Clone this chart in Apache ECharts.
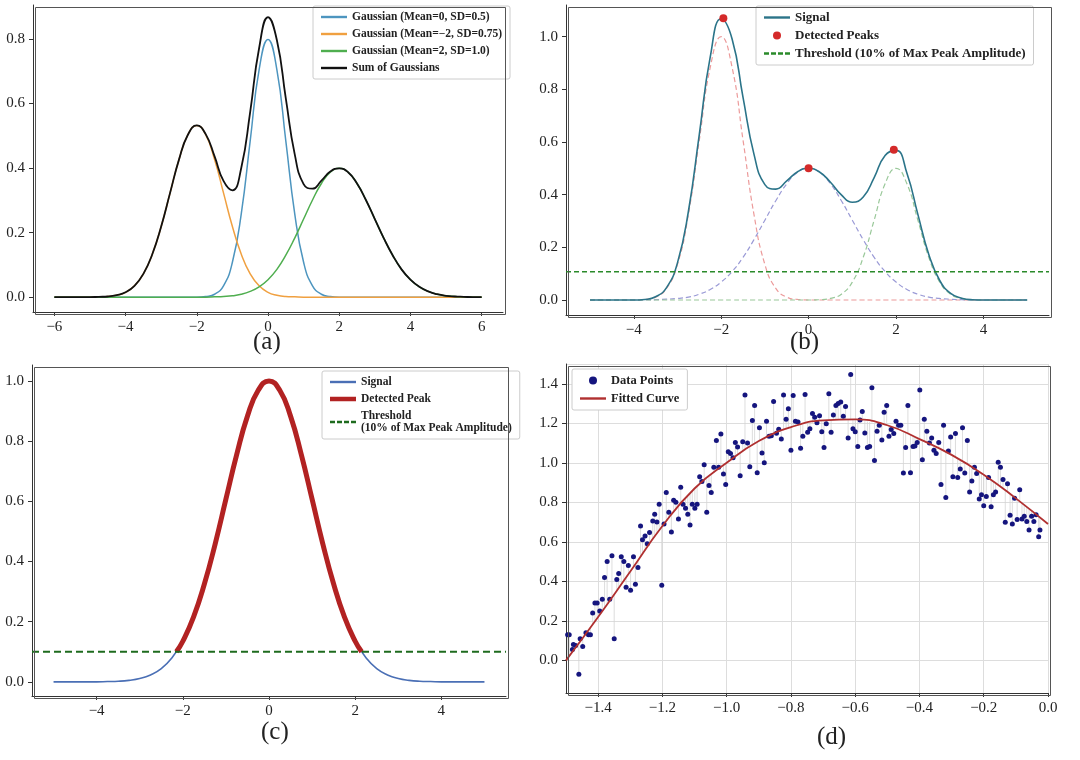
<!DOCTYPE html>
<html>
<head>
<meta charset="utf-8">
<script src="https://cdn.jsdelivr.net/npm/echarts@6/dist/echarts.min.js"></script>
<style>html,body{margin:0;padding:0;background:#fff}#main{width:1080px;height:760px}</style>
</head>
<body>
<div id="main"></div>
<script>
// ---- panel (a): three gaussians, x from -6 to 6 step 0.25
var xsA = []
for (var i = 0; i <= 48; i++) xsA.push(-6 + i * 0.25)
var gaussA0 = [0,0,0,0,0,0,0,0,0,0,0,0,0,0,0,0,0,
  0.002,0.009,0.035,0.108,0.259,0.484,0.704,0.798,0.704,0.484,0.259,0.108,0.035,0.009,0.002,
  0,0,0,0,0,0,0,0,0,0,0,0,0,0,0,0,0]
var gaussA1 = [0,0,0,0,0,
  0.001,0.002,0.006,0.015,0.035,0.072,0.133,0.219,0.323,0.426,0.503,0.532,0.503,0.426,0.323,0.219,0.133,0.072,0.035,0.015,0.006,0.002,0.001,
  0,0,0,0,0,0,0,0,0,0,0,0,0,0,0,0,0,0,0,0,0]
var gaussA2 = [0,0,0,0,0,0,0,0,0,0,0,0,0,0,0,0,0,0,
  0.001,0.002,0.004,0.009,0.018,0.032,0.054,0.086,0.130,0.183,0.242,0.301,0.352,0.387,0.399,0.387,0.352,0.301,0.242,0.183,0.130,0.086,0.054,0.032,0.018,0.009,0.004,0.002,0.001,
  0,0]

// ---- panel (b): signal components, x from -5 to 5 step 0.25
var xsB = []
for (var i = 0; i <= 40; i++) xsB.push(-5 + i * 0.25)
var compRed = [0,0,0,0,0,
  0.002,0.011,0.044,0.135,0.325,0.607,0.883,1,0.883,0.607,0.325,0.135,0.044,0.011,0.002,
  0,0,0,0,0,0,0,0,0,0,0,0,0,0,0,0,0,0,0,0,0]
var compBlue = [0,0,0,0,0,0,
  0.001,0.003,0.006,0.011,0.022,0.040,0.068,0.108,0.162,0.229,0.303,0.377,0.441,0.485,0.5,0.485,0.441,0.377,0.303,0.229,0.162,0.108,0.068,0.040,0.022,0.011,0.006,0.003,0.001,
  0,0,0,0,0,0]
var compGreen = [0,0,0,0,0,0,0,0,0,0,0,0,0,0,0,0,0,0,0,0,0,
  0.001,0.006,0.022,0.068,0.162,0.303,0.441,0.5,0.441,0.303,0.162,0.068,0.022,0.006,0.001,
  0,0,0,0,0]
var peakX = [-1.95, 0, 1.95]
var peakY = [1.07, 0.50, 0.57]
var thresholdB = 0.107

// ---- panel (c): single peak, x from -5 to 5 step 0.25
var signalC = [0,0,0,0,0,
  0.001,0.002,0.005,0.011,0.023,0.044,0.080,0.135,0.216,0.325,0.458,0.607,0.755,0.883,0.969,
  1,
  0.969,0.883,0.755,0.607,0.458,0.325,0.216,0.135,0.080,0.044,0.023,0.011,0.005,0.002,0.001,
  0,0,0,0,0]
var thresholdC = 0.1
var crossC = [-2.15, 2.15]

// ---- panel (d): noisy data and fitted curve
var fitX = [-1.5,-1.4,-1.3,-1.2,-1.1,-1.0,-0.9,-0.8,-0.7,-0.6,-0.5,-0.4,-0.3,-0.2,-0.1,0]
var fitY = [0.0,0.22,0.45,0.68,0.87,1.0,1.11,1.18,1.215,1.22,1.19,1.12,1.04,0.94,0.82,0.69]
var pointsD = [
[-1.495,0.13],[-1.49,0.13],[-1.48,0.055],[-1.477,0.08],[-1.47,0.075],[-1.46,-0.07],[-1.456,0.11],[-1.448,0.07],
[-1.438,0.14],[-1.43,0.13],[-1.424,0.13],[-1.417,0.24],[-1.41,0.29],[-1.403,0.29],[-1.395,0.25],[-1.387,0.31],
[-1.38,0.42],[-1.372,0.5],[-1.364,0.31],[-1.357,0.53],[-1.35,0.11],[-1.342,0.41],[-1.336,0.44],[-1.328,0.525],
[-1.32,0.5],[-1.313,0.37],[-1.306,0.48],[-1.299,0.355],[-1.29,0.525],[-1.284,0.385],[-1.276,0.47],[-1.268,0.68],
[-1.262,0.61],[-1.254,0.63],[-1.247,0.59],[-1.24,0.647],[-1.23,0.705],[-1.224,0.74],[-1.217,0.7],[-1.21,0.79],
[-1.202,0.38],[-1.195,0.69],[-1.188,0.85],[-1.18,0.75],[-1.172,0.65],[-1.165,0.81],[-1.158,0.8],[-1.15,0.715],
[-1.143,0.876],[-1.136,0.79],[-1.128,0.77],[-1.121,0.74],[-1.114,0.685],[-1.107,0.79],[-1.099,0.77],[-1.092,0.79],
[-1.084,0.93],[-1.077,0.905],[-1.07,0.99],[-1.062,0.75],[-1.055,0.885],[-1.048,0.85],[-1.04,0.977],[-1.032,1.113],
[-1.025,0.977],[-1.018,1.146],[-1.01,0.943],[-1.003,0.89],[-0.995,1.056],[-0.988,1.047],[-0.98,1.026],[-0.973,1.103],
[-0.966,1.08],[-0.958,0.934],[-0.95,1.107],[-0.943,1.343],[-0.935,1.1],[-0.928,0.98],[-0.92,1.214],[-0.913,1.29],
[-0.905,0.95],[-0.898,1.177],[-0.89,1.05],[-0.883,1.0],[-0.876,1.21],[-0.868,1.134],[-0.861,1.137],[-0.854,1.31],
[-0.845,1.15],[-0.838,1.17],[-0.83,1.12],[-0.823,1.343],[-0.815,1.22],[-0.808,1.273],[-0.8,1.064],[-0.793,1.34],
[-0.786,1.21],[-0.778,1.207],[-0.77,1.073],[-0.763,1.134],[-0.756,1.346],[-0.748,1.155],[-0.741,1.172],[-0.733,1.25],
[-0.726,1.23],[-0.719,1.203],[-0.711,1.238],[-0.704,1.157],[-0.697,1.078],[-0.69,1.198],[-0.682,1.35],[-0.675,1.155],
[-0.668,1.242],[-0.66,1.29],[-0.653,1.3],[-0.645,1.308],[-0.637,1.235],[-0.63,1.285],[-0.622,1.125],[-0.614,1.447],
[-0.607,1.172],[-0.6,1.157],[-0.592,1.082],[-0.585,1.217],[-0.578,1.259],[-0.57,1.151],[-0.562,1.078],[-0.555,1.082],
[-0.548,1.38],[-0.54,1.012],[-0.532,1.16],[-0.525,1.19],[-0.517,1.116],[-0.51,1.256],[-0.502,1.29],[-0.495,1.134],
[-0.488,1.169],[-0.48,1.148],[-0.473,1.21],[-0.465,1.19],[-0.458,1.19],[-0.45,0.948],[-0.443,1.077],[-0.436,1.29],
[-0.428,0.95],[-0.42,1.082],[-0.414,1.085],[-0.407,1.103],[-0.399,1.369],[-0.391,1.016],[-0.385,1.22],[-0.377,1.16],
[-0.369,1.1],[-0.362,1.125],[-0.355,1.064],[-0.348,1.047],[-0.34,1.103],[-0.333,0.89],[-0.325,1.19],[-0.318,0.824],
[-0.31,1.06],[-0.303,1.13],[-0.296,0.929],[-0.288,1.148],[-0.281,0.925],[-0.273,0.969],[-0.266,1.177],[-0.259,0.948],
[-0.251,1.113],[-0.244,0.852],[-0.237,0.908],[-0.229,0.977],[-0.222,0.946],[-0.214,0.817],[-0.207,0.838],[-0.2,0.783],
[-0.192,0.83],[-0.185,0.925],[-0.177,0.777],[-0.17,0.838],[-0.163,0.852],[-0.155,1.003],[-0.148,0.977],[-0.14,0.916],
[-0.133,0.699],[-0.126,0.894],[-0.118,0.734],[-0.111,0.69],[-0.104,0.82],[-0.096,0.713],[-0.088,0.864],[-0.081,0.716],
[-0.074,0.729],[-0.066,0.703],[-0.059,0.66],[-0.051,0.73],[-0.044,0.703],[-0.037,0.737],[-0.029,0.626],[-0.025,0.66]
]

// helpers
function zip(xs, ys) { return xs.map(function(x, i) { return [x, ys[i]] }) }
function fitAt(x) {
  for (var i = 0; i < fitX.length - 1; i++) {
    if (x <= fitX[i + 1]) {
      var t = (x - fitX[i]) / (fitX[i + 1] - fitX[i])
      return fitY[i] + t * (fitY[i + 1] - fitY[i])
    }
  }
  return fitY[fitY.length - 1]
}
var sumA = xsA.map(function(x, i) { return gaussA0[i] + gaussA1[i] + gaussA2[i] })
var signalB = xsB.map(function(x, i) { return compRed[i] + compBlue[i] + compGreen[i] })
var xsC = xsB
var peakC = [[crossC[0], thresholdC]]
xsC.forEach(function(x, i) { if (x > crossC[0] + 0.1 && x < crossC[1] - 0.1) peakC.push([x, signalC[i]]) })
peakC.push([crossC[1], thresholdC])

var FONT = 'Liberation Serif'
function fmt(d) {
  return function(v) {
    var s = Math.abs(v) < 1e-9 ? (0).toFixed(d) : v.toFixed(d)
    return s.replace('-', '\u2212')
  }
}
function xAxisOf(gi, min, max, d, grid) {
  return {
    type: 'value', gridIndex: gi, min: min, max: max, splitNumber: grid ? 8 : 6,
    axisLine: { onZero: false, lineStyle: { color: '#333' } },
    axisTick: { show: true, length: 4, lineStyle: { color: '#333' } },
    axisLabel: { fontFamily: FONT, fontSize: 15, color: '#222', formatter: fmt(d), showMinLabel: false, showMaxLabel: grid ? true : false },
    splitLine: { show: !!grid, lineStyle: { color: '#ddd' } }
  }
}
function yAxisOf(gi, min, max, grid) {
  return {
    type: 'value', gridIndex: gi, min: min, max: max, splitNumber: grid ? 8 : 5,
    axisLine: { show: true, onZero: false, lineStyle: { color: '#333' } },
    axisTick: { show: true, length: 4, lineStyle: { color: '#333' } },
    axisLabel: { fontFamily: FONT, fontSize: 15, color: '#222', formatter: fmt(1), showMinLabel: false, showMaxLabel: false },
    splitLine: { show: !!grid, lineStyle: { color: '#ddd' } }
  }
}
function frame(l, t, w, h) {
  return { type: 'rect', left: l, top: t, shape: { width: w, height: h }, style: { fill: 'none', stroke: '#555', lineWidth: 1 }, z: 50 }
}
function caption(txt, x, y) {
  return { type: 'text', left: x, top: y, style: { text: txt, font: '25px "Liberation Serif"', fill: '#222' } }
}
var SOLID = 'path://M0,0L26,0L26,2.4L0,2.4Z'
var THICK = 'path://M0,0L26,0L26,4.5L0,4.5Z'
var DASH = 'path://M0,0L5,0L5,2.4L0,2.4ZM7,0L12,0L12,2.4L7,2.4ZM14,0L19,0L19,2.4L14,2.4ZM21,0L26,0L26,2.4L21,2.4Z'
function legendOf(left, top, size, names, icons) {
  return {
    left: left, top: top, orient: 'vertical', itemGap: 5, itemWidth: 26, itemHeight: 8,
    padding: [5, 8, 5, 8], borderColor: '#ccc', borderWidth: 1, borderRadius: 2, backgroundColor: '#fff',
    textStyle: { fontFamily: FONT, fontWeight: 'bold', fontSize: size, color: '#222' },
    data: names.map(function(n, i) { return { name: n, icon: icons[i] } })
  }
}
function line(name, xi, data, color, width, dashed, z) {
  return {
    name: name, type: 'line', xAxisIndex: xi, yAxisIndex: xi, data: data, smooth: true, showSymbol: false,
    symbol: 'none', lineStyle: { color: color, width: width, type: dashed ? [5, 3] : 'solid' }, itemStyle: { color: color }, z: z || 2
  }
}

var grids = [
  { left: 33, top: 5, width: 470, height: 307 },
  { left: 566, top: 5, width: 483, height: 310 },
  { left: 32, top: 365, width: 474, height: 331 },
  { left: 566, top: 364, width: 482, height: 329 }
]

var myChart = echarts.init(document.getElementById('main'))
var option = {
  animation: false,
  backgroundColor: '#fff',
  grid: grids,
  xAxis: [xAxisOf(0, -6.6, 6.6, 0), xAxisOf(1, -5.55, 5.5, 0), xAxisOf(2, -5.5, 5.5, 0), xAxisOf(3, -1.5, 0, 1, true)],
  yAxis: [yAxisOf(0, -0.046, 0.905), yAxisOf(1, -0.057, 1.12), yAxisOf(2, -0.047, 1.053), yAxisOf(3, -0.165, 1.5, true)],
  legend: [
    legendOf(313, 6, 11.5, ['Gaussian (Mean=0, SD=0.5)', 'Gaussian (Mean=\u22122, SD=0.75)', 'Gaussian (Mean=2, SD=1.0)', 'Sum of Gaussians'], [SOLID, SOLID, SOLID, SOLID]),
    legendOf(756, 6, 13, ['Signal', 'Detected Peaks', 'Threshold (10% of Max Peak Amplitude)'], [SOLID, 'circle', DASH]),
    legendOf(322, 371, 11.5, ['Signal ', 'Detected Peak', 'Threshold\n(10% of Max Peak Amplitude)'], [SOLID, THICK, DASH]),
    legendOf(572, 369, 12.5, ['Data Points', 'Fitted Curve'], ['circle', SOLID])
  ],
  graphic: [
    frame(33, 5, 470, 307), frame(566, 5, 483, 310), frame(32, 365, 474, 331), frame(566, 364, 482, 329),
    caption('(a)', 253, 330), caption('(b)', 790, 330), caption('(c)', 261, 720), caption('(d)', 817, 725)
  ],
  series: [
    line('Gaussian (Mean=0, SD=0.5)', 0, zip(xsA, gaussA0), '#4d95bf', 1.5),
    line('Gaussian (Mean=\u22122, SD=0.75)', 0, zip(xsA, gaussA1), '#f0a040', 1.5),
    line('Gaussian (Mean=2, SD=1.0)', 0, zip(xsA, gaussA2), '#4fae4f', 1.5),
    line('Sum of Gaussians', 0, zip(xsA, sumA), '#111', 1.8, false, 3),

    line('comp1', 1, zip(xsB, compRed), '#ec9a9a', 1.2, true),
    line('comp2', 1, zip(xsB, compBlue), '#9a9ad6', 1.2, true),
    line('comp3', 1, zip(xsB, compGreen), '#99c899', 1.2, true),
    line('Signal', 1, zip(xsB, signalB), '#2b7489', 1.6, false, 3),
    {
      name: 'Detected Peaks', type: 'scatter', xAxisIndex: 1, yAxisIndex: 1, symbolSize: 8,
      data: zip(peakX, peakY), itemStyle: { color: '#d42a2a', opacity: 1 }, z: 5
    },
    {
      name: 'Threshold (10% of Max Peak Amplitude)', type: 'line', xAxisIndex: 1, yAxisIndex: 1, showSymbol: false, symbol: 'none',
      data: [[-5.55, thresholdB], [5.5, thresholdB]], lineStyle: { color: '#2a8a2a', width: 1.5, type: [5, 3] }, itemStyle: { color: '#2a8a2a' }
    },

    line('Signal ', 2, zip(xsC, signalC), '#4a6fb5', 1.6),
    line('Detected Peak', 2, peakC, '#b22222', 5, false, 3),
    {
      name: 'Threshold\n(10% of Max Peak Amplitude)', type: 'line', xAxisIndex: 2, yAxisIndex: 2, showSymbol: false, symbol: 'none',
      data: [[-5.5, thresholdC], [5.5, thresholdC]], lineStyle: { color: '#1e6b1e', width: 2, type: [7, 4] }, itemStyle: { color: '#1e6b1e' }, z: 4
    },

    {
      name: 'residuals', type: 'custom', xAxisIndex: 3, yAxisIndex: 3, data: pointsD, z: 1,
      renderItem: function(params, api) {
        var x = api.value(0), y = api.value(1)
        var p1 = api.coord([x, y]), p2 = api.coord([x, fitAt(x)])
        return { type: 'line', shape: { x1: p1[0], y1: p1[1], x2: p2[0], y2: p2[1] }, style: { stroke: '#d4d4d4', lineWidth: 0.8 } }
      }
    },
    {
      name: 'Data Points', type: 'scatter', xAxisIndex: 3, yAxisIndex: 3, symbolSize: 5,
      data: pointsD, itemStyle: { color: '#15157e', opacity: 1 }, z: 4
    },
    line('Fitted Curve', 3, zip(fitX, fitY), '#b03030', 1.8, false, 5)
  ]
}
myChart.setOption(option)
window.onresize = () => { myChart.resize() }
</script>
</body>
</html>
